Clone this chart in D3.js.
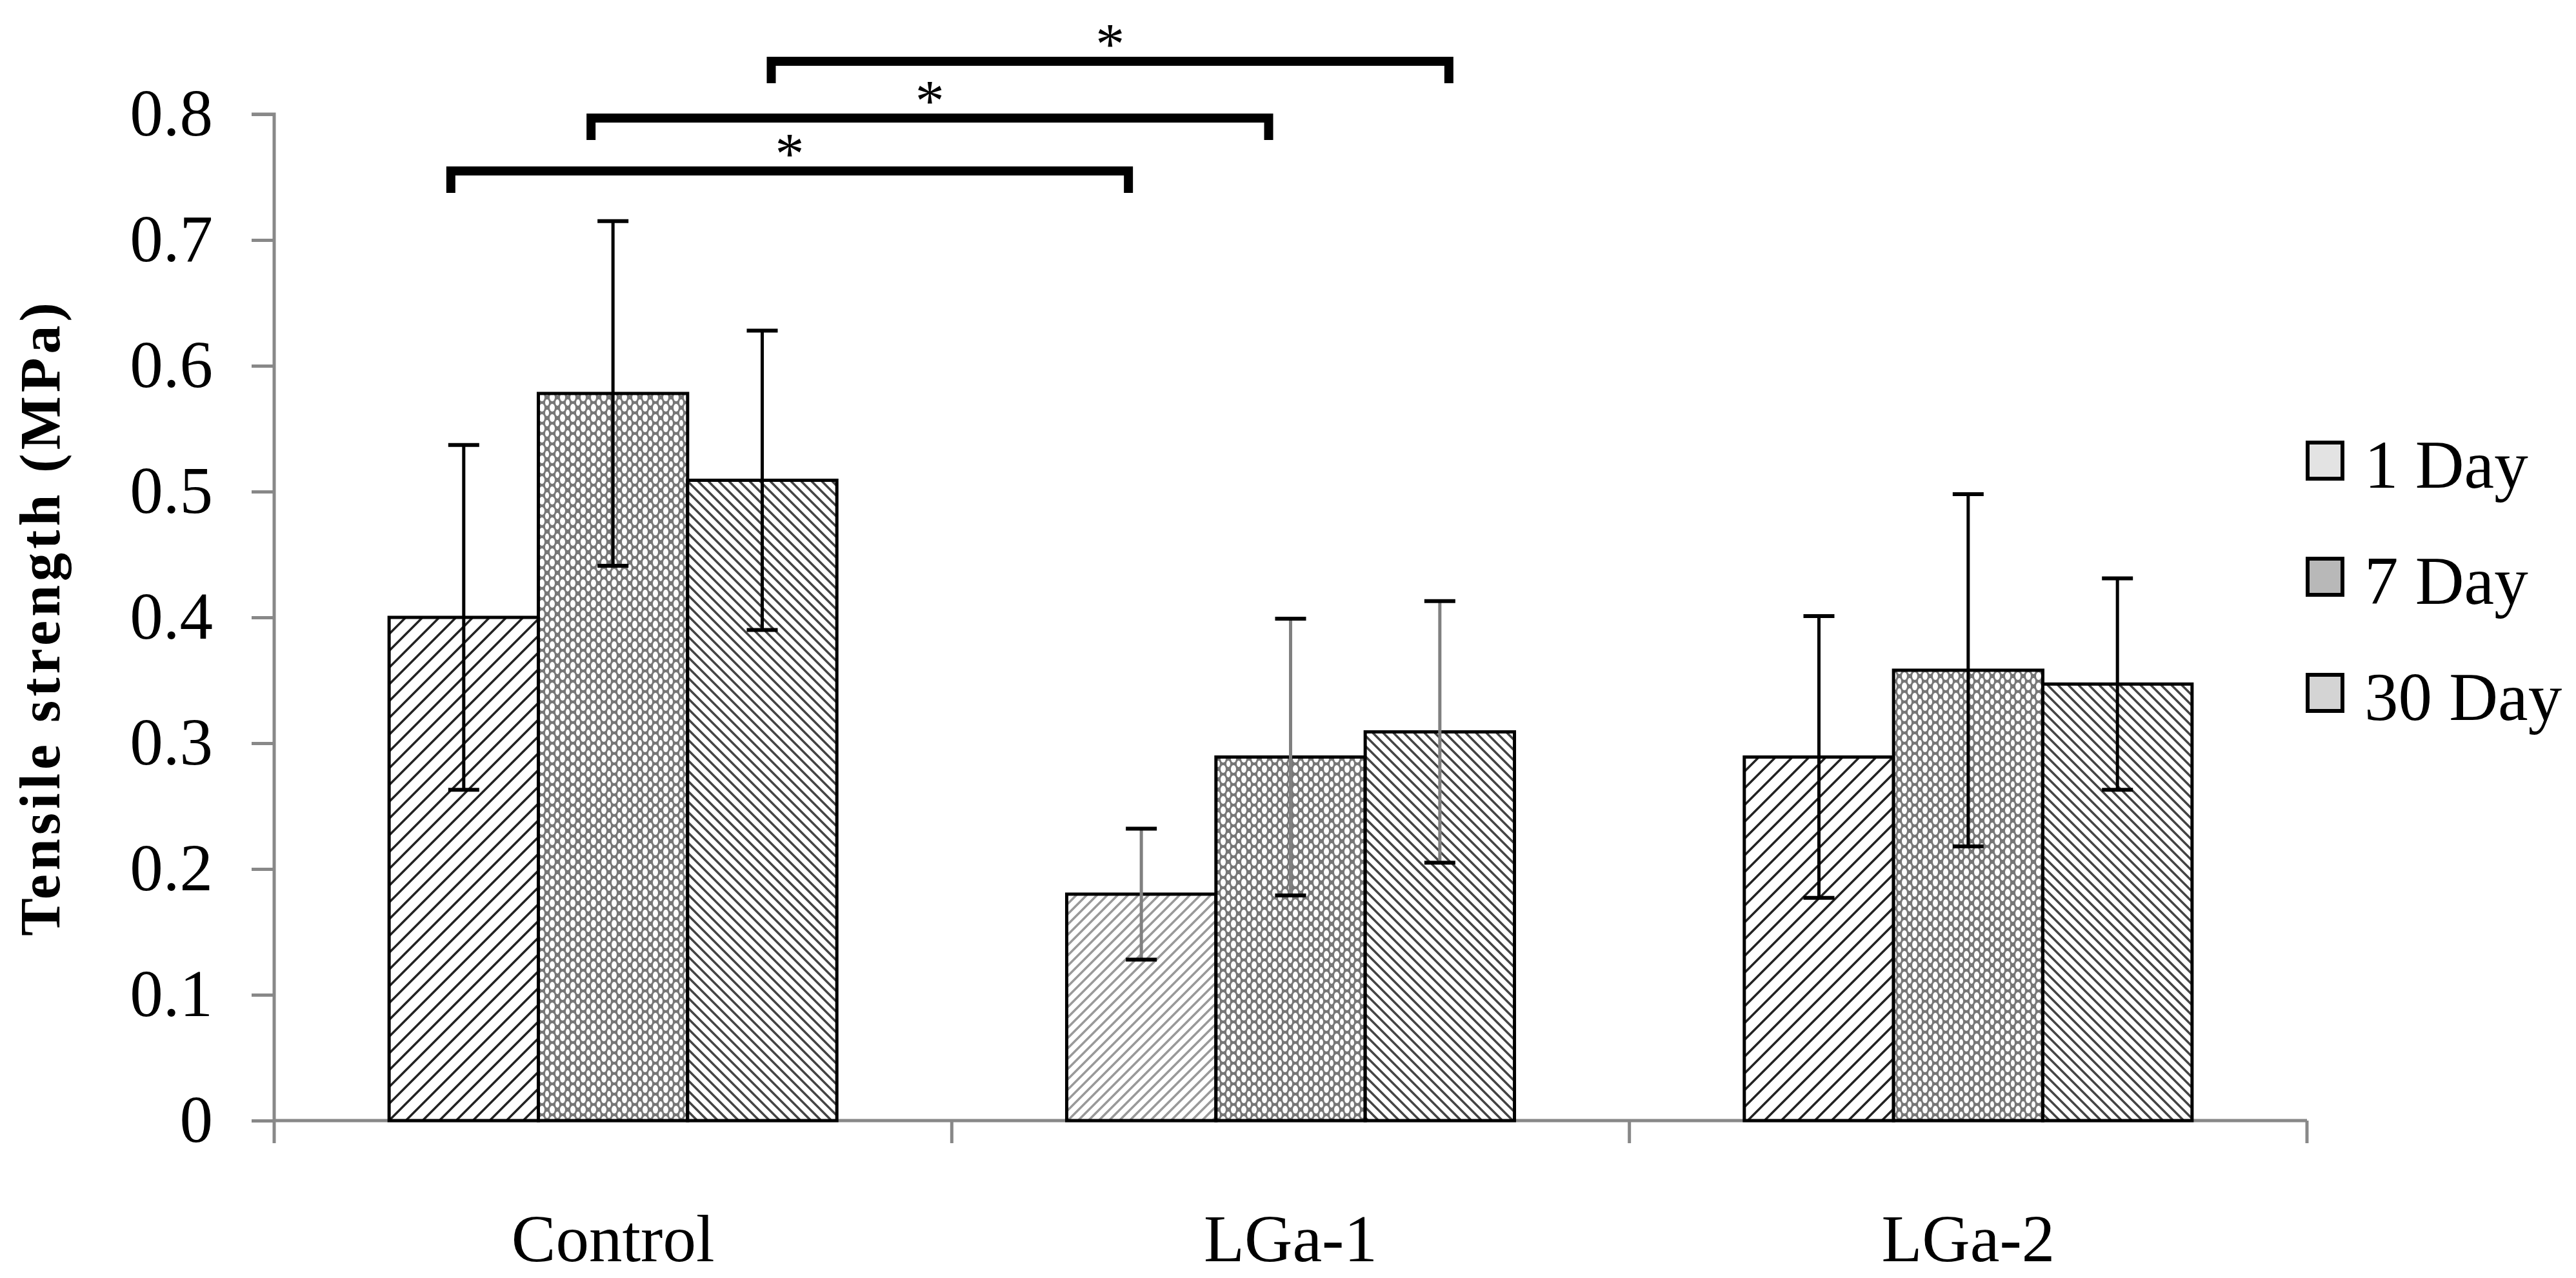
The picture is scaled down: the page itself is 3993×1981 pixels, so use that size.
<!DOCTYPE html>
<html>
<head>
<meta charset="utf-8">
<script src="https://cdn.jsdelivr.net/npm/d3@7"></script>
<style>
  body { margin: 0; background: #fff; }
  text { font-family: "Liberation Serif", "Times New Roman", serif; }
</style>
</head>
<body>
<div id="chart"></div>
<script>
// data
const groups = ["Control", "LGa-1", "LGa-2"];
const series = ["1 Day", "7 Day", "30 Day"];
const values = [
  [0.400, 0.578, 0.509],
  [0.180, 0.289, 0.309],
  [0.289, 0.358, 0.347]
];
const errors = [
  [0.137, 0.137, 0.119],
  [0.052, 0.110, 0.104],
  [0.112, 0.140, 0.084]
];
const yTicks = [0, 0.1, 0.2, 0.3, 0.4, 0.5, 0.6, 0.7, 0.8];
// significance brackets: [series index, group from, group to]
const brackets = [[0, 0, 1], [1, 0, 1], [2, 0, 1]];

const W = 3993, H = 1981;
const svg = d3.select("#chart").append("svg").attr("width", W).attr("height", H);

// patterns
const defs = svg.append("defs");
function lines(id, size, dir, color, sw) {
  const p = defs.append("pattern").attr("id", id).attr("patternUnits", "userSpaceOnUse")
    .attr("width", size).attr("height", size);
  p.append("rect").attr("width", size).attr("height", size).attr("fill", "#fff");
  const d = dir > 0
    ? `M0,${size} L${size},0 M${-size / 2},${size / 2} L${size / 2},${-size / 2} M${size / 2},${size * 1.5} L${size * 1.5},${size / 2}`
    : `M0,0 L${size},${size} M${-size / 2},${size / 2} L${size / 2},${size * 1.5} M${size / 2},${-size / 2} L${size * 1.5},${size / 2}`;
  p.append("path").attr("d", d).attr("stroke", color).attr("stroke-width", sw);
}
lines("p1", 26, 1, "#222", 3.5);
lines("p1b", 16, 1, "#999", 3.5);
lines("p3", 16, -1, "#444", 3.5);
const chk = defs.append("pattern").attr("id", "p2").attr("patternUnits", "userSpaceOnUse")
  .attr("width", 16).attr("height", 16);
chk.append("rect").attr("width", 16).attr("height", 16).attr("fill", "#777");
chk.append("ellipse").attr("cx", 8).attr("cy", 8).attr("rx", 4).attr("ry", 6).attr("fill", "#fff");
[[0, 0], [16, 0], [0, 16], [16, 16]].forEach(c =>
  chk.append("ellipse").attr("cx", c[0]).attr("cy", c[1]).attr("rx", 3).attr("ry", 5).attr("fill", "#fff"));

const fillFor = (gi, si) => si === 1 ? "url(#p2)" : si === 2 ? "url(#p3)" : (gi === 1 ? "url(#p1b)" : "url(#p1)");
const errColor = gi => gi === 1 ? "#808080" : "#000";

const x0 = d3.scaleBand().domain(groups).range([425, 3576]).paddingInner(0).paddingOuter(0);
const x1 = d3.scaleBand().domain(series).range([0, x0.bandwidth()]).paddingInner(0).paddingOuter(0.77);
const y = d3.scaleLinear().domain([0, 0.8]).range([1737, 177]);

// y axis
const yAxis = svg.append("g").attr("transform", "translate(425,0)")
  .call(d3.axisLeft(y).tickValues(yTicks).tickSize(35).tickPadding(60).tickFormat(d => d === 0 ? "0" : d3.format(".1f")(d)));
yAxis.select(".domain").attr("stroke", "#888").attr("stroke-width", 5).attr("d", `M-35,177H0V1737`);
yAxis.selectAll(".tick line").attr("stroke", "#888").attr("stroke-width", 5);
yAxis.selectAll(".tick text").attr("font-size", 103).attr("fill", "#000")
  .attr("font-family", "Liberation Serif");

// x axis
const xg = svg.append("g").attr("transform", "translate(0,1737)");
xg.append("line").attr("x1", 425).attr("x2", 3576).attr("stroke", "#888").attr("stroke-width", 5);
const bounds = groups.map(g => x0(g)).concat([x0(groups[2]) + x0.bandwidth()]);
xg.selectAll(".xt").data(bounds).enter().append("line")
  .attr("x1", d => d).attr("x2", d => d).attr("y1", 0).attr("y2", 35)
  .attr("stroke", "#888").attr("stroke-width", 5);
xg.selectAll(".xl").data(groups).enter().append("text")
  .attr("x", d => x0(d) + x0.bandwidth() / 2).attr("y", 218)
  .attr("text-anchor", "middle").attr("font-size", 103).text(d => d);

// bars
const flat = [];
values.forEach((row, gi) => row.forEach((v, si) => flat.push({ gi, si, v, e: errors[gi][si] })));
const cx = d => x0(groups[d.gi]) + x1(series[d.si]) + x1.bandwidth() / 2;

svg.append("g").selectAll("rect").data(flat).enter().append("rect")
  .attr("x", d => x0(groups[d.gi]) + x1(series[d.si]))
  .attr("y", d => y(d.v))
  .attr("width", x1.bandwidth())
  .attr("height", d => y(0) - y(d.v))
  .attr("fill", d => fillFor(d.gi, d.si))
  .attr("stroke", "#000").attr("stroke-width", 5);

// error bars
const eg = svg.append("g");
eg.selectAll(".ev").data(flat).enter().append("line")
  .attr("x1", cx).attr("x2", cx)
  .attr("y1", d => y(d.v + d.e)).attr("y2", d => y(d.v - d.e))
  .attr("stroke", d => errColor(d.gi)).attr("stroke-width", 5);
["+", "-"].forEach(s => {
  eg.selectAll(".cap" + (s === "+" ? "t" : "b")).data(flat).enter().append("line")
    .attr("x1", d => cx(d) - 24).attr("x2", d => cx(d) + 24)
    .attr("y1", d => y(s === "+" ? d.v + d.e : d.v - d.e))
    .attr("y2", d => y(s === "+" ? d.v + d.e : d.v - d.e))
    .attr("stroke", "#000").attr("stroke-width", 6);
});

// significance brackets
const brY = [265, 183, 95];
const brOff = [-20, -34, 14];
const bg = svg.append("g");
brackets.forEach((b, i) => {
  const xa = cx({ gi: b[1], si: b[0] }) + brOff[i];
  const xb = cx({ gi: b[2], si: b[0] }) + brOff[i];
  bg.append("path")
    .attr("d", `M${xa},${brY[i] + 34}V${brY[i]}H${xb}V${brY[i] + 34}`)
    .attr("fill", "none").attr("stroke", "#000").attr("stroke-width", 14);
  bg.append("text").attr("x", (xa + xb) / 2).attr("y", brY[i] + 4)
    .attr("text-anchor", "middle").attr("font-size", 90).text("*");
});

// y title
svg.append("text")
  .attr("transform", "translate(92,957) rotate(-90)")
  .attr("text-anchor", "middle").attr("font-size", 88).attr("font-weight", "bold")
  .attr("letter-spacing", 6)
  .text("Tensile strength (MPa)");

// legend
const legFill = ["#e3e3e3", "#b8b8b8", "#d4d4d4"];
const lg = svg.append("g").selectAll("g").data(series).enter().append("g")
  .attr("transform", (d, i) => `translate(3577,${686 + i * 180})`);
lg.append("rect").attr("width", 54).attr("height", 56)
  .attr("fill", (d, i) => legFill[i]).attr("stroke", "#000").attr("stroke-width", 6);
lg.append("text").attr("x", 88).attr("y", 70).attr("font-size", 105).text(d => d);
</script>
</body>
</html>
